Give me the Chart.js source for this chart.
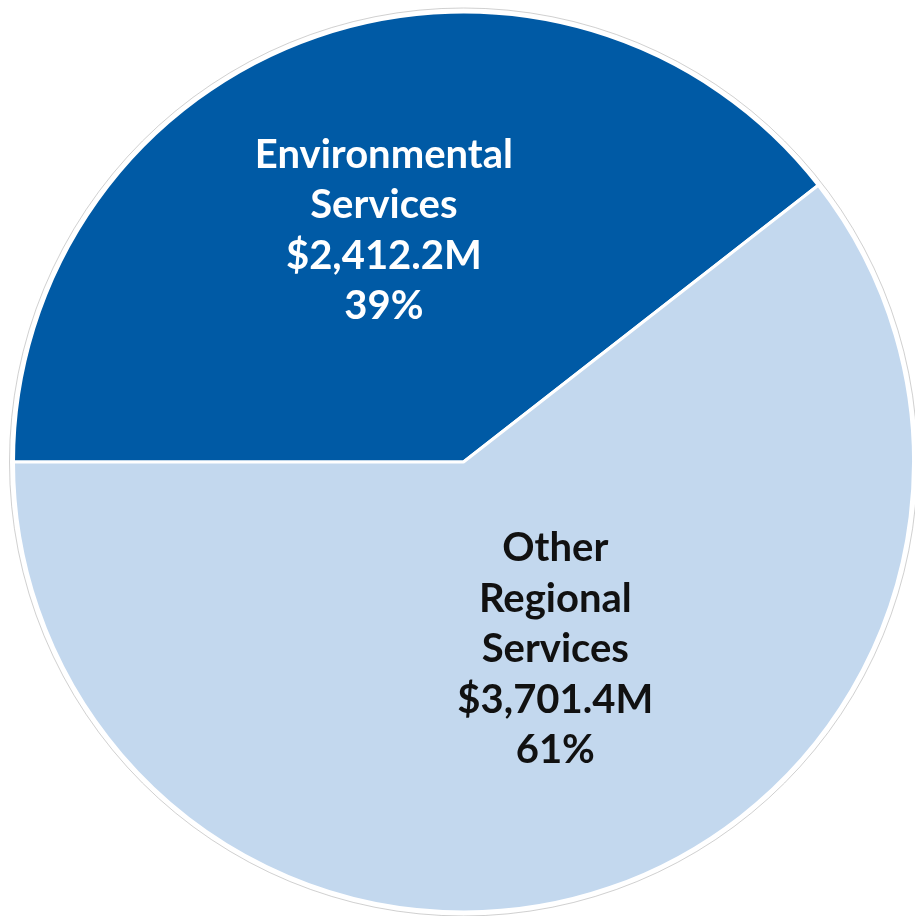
<!DOCTYPE html>
<html>
<head>
<meta charset="utf-8">
<script src="https://cdn.jsdelivr.net/npm/chart.js@4.4.1/dist/chart.umd.min.js"></script>
<style>
  html, body { margin: 0; padding: 0; background: #ffffff; }
  #contenedor { width: 915px; height: 916px; }
</style>
</head>
<body>
<div id="contenedor"><canvas id="graficoPie"></canvas></div>
<script>
// Datos del gráfico
const categorias = [['Environmental', 'Services'], ['Other', 'Regional', 'Services']];
const montos = [2412.2, 3701.4];
const etiquetasMonto = ['$2,412.2M', '$3,701.4M'];
const colores = ['#005AA5', '#C3D8EE'];
const coloresTexto = ['#ffffff', '#111111'];

// Etiquetas dentro de cada porción
const pluginEtiquetas = {
    id: 'etiquetasPie',
    beforeDatasetsDraw(chart) {
        // aro gris tenue alrededor del pie
        const arco = chart.getDatasetMeta(0).data[0];
        const ctx = chart.ctx;
        ctx.save();
        ctx.beginPath();
        ctx.arc(arco.x, arco.y, arco.outerRadius + 4, 0, Math.PI * 2);
        ctx.strokeStyle = 'rgba(150,150,150,0.45)';
        ctx.lineWidth = 1;
        ctx.stroke();
        ctx.restore();
    },
    afterDatasetsDraw(chart) {
        const ctx = chart.ctx;
        const meta = chart.getDatasetMeta(0);
        const total = montos.reduce((a, b) => a + b, 0);
        const factores = [0.544, 0.464];
        const ajusteAngulo = [0, -0.124];
        ctx.save();
        ctx.font = 'bold 40px Lato';
        ctx.textAlign = 'center';
        ctx.textBaseline = 'middle';
        meta.data.forEach((arco, i) => {
            const medio = (arco.startAngle + arco.endAngle) / 2 + ajusteAngulo[i];
            const r = arco.outerRadius * factores[i];
            const cx = arco.x + Math.cos(medio) * r;
            const cy = arco.y + Math.sin(medio) * r;
            const lineas = [...categorias[i], etiquetasMonto[i], Math.round(montos[i] / total * 100) + '%'];
            const alto = 50.5;
            const inicio = cy - (lineas.length - 1) * alto / 2;
            ctx.fillStyle = coloresTexto[i];
            lineas.forEach((t, j) => ctx.fillText(t, cx, inicio + j * alto));
        });
        ctx.restore();
    }
};

const ctxPie = document.getElementById('graficoPie');
new Chart(ctxPie, {
    type: 'pie',
    data: {
        labels: categorias.map(c => c.join(' ')),
        datasets: [{
            data: montos,
            backgroundColor: colores,
            borderColor: '#ffffff',
            borderWidth: 3
        }]
    },
    options: {
        responsive: true,
        maintainAspectRatio: false,
        animation: false,
        rotation: -90,
        layout: { padding: { left: 12, right: 0, top: 8, bottom: 0 } },
        plugins: {
            legend: { display: false },
            tooltip: { enabled: false }
        }
    },
    plugins: [pluginEtiquetas]
});
</script>
</body>
</html>
